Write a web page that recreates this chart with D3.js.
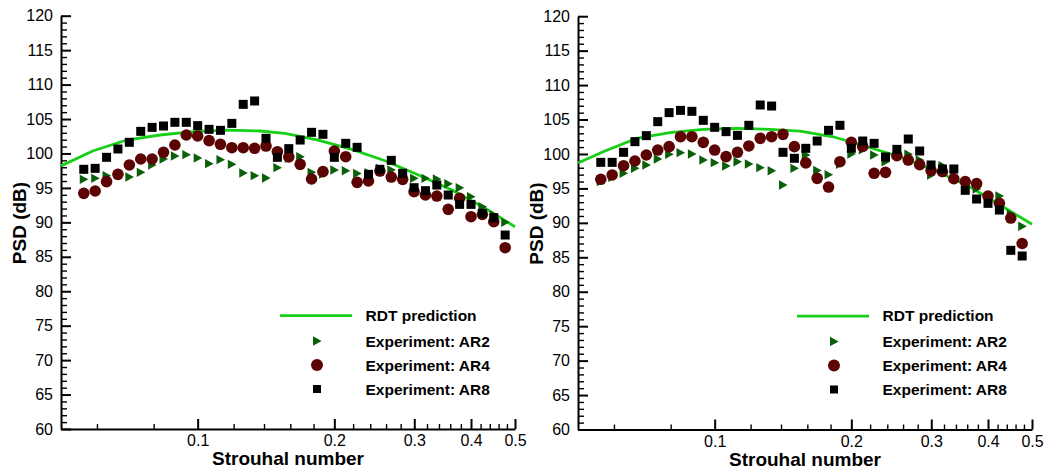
<!DOCTYPE html>
<html>
<head>
<meta charset="utf-8">
<script src="https://cdn.jsdelivr.net/npm/d3@7"></script>
<style>
  body { margin: 0; background: #fff; }
  svg { display: block; font-family: "Liberation Sans", Arial, Helvetica, sans-serif; }
</style>
</head>
<body>
<svg id="chart" width="1047" height="469"></svg>
<script>
// 1/12-octave Strouhal band centres
const strouhal = [0.05612, 0.05946, 0.06300, 0.06674, 0.07071, 0.07492, 0.07937, 0.08409, 0.08909, 0.09439,
  0.1, 0.10595, 0.11225, 0.11892, 0.12599, 0.13348, 0.14142, 0.14983, 0.15874, 0.16818,
  0.17818, 0.18877, 0.2, 0.21189, 0.22449, 0.23784, 0.25198, 0.26697, 0.28284, 0.29966,
  0.31748, 0.33636, 0.35636, 0.37755, 0.4, 0.42379, 0.44898, 0.47568];

// Left panel
const leftAR2 = [96.24, 96.39, 96.78, 96.9, 96.58, 97.26, 98.33, 99.2, 99.63, 99.83,
  99.34, 98.52, 99.1, 98.42, 97.16, 96.78, 96.44, 97.94, 99.3, 99.53,
  97.26, 97.0, 97.6, 97.5, 97.1, 97.2, 97.84, 97.6, 97.1, 96.39,
  96.39, 96.29, 95.6, 95.03, 93.73, 92.27, 91.07, 90.0];
const leftAR4 = [94.21, 94.55, 95.91, 96.97, 98.33, 99.2, 99.2, 100.17, 101.23, 102.68,
  102.54, 101.86, 101.33, 100.84, 100.84, 100.75, 101.08, 100.26, 99.5, 98.42,
  96.29, 97.36, 100.36, 99.53, 95.81, 96.0, 97.45, 96.58, 96.24, 94.45,
  93.97, 93.82, 91.89, 93.49, 90.82, 91.16, 90.1, 86.32];
const leftAR8 = [97.7, 97.84, 99.44, 100.65, 101.62, 103.21, 103.79, 103.99, 104.52, 104.52,
  104.04, 103.5, 103.36, 104.37, 107.13, 107.62, 102.2, 99.44, 100.7, 101.95,
  103.07, 102.78, 99.44, 101.47, 100.89, 96.97, 97.7, 99.0, 97.12, 95.03,
  94.6, 95.42, 93.97, 92.61, 92.61, 91.31, 90.68, 88.16];
const leftRdtSt = [0.05, 0.0589, 0.0698, 0.0826, 0.0978, 0.1159, 0.1372, 0.1557, 0.1843, 0.2185, 0.2587, 0.3063, 0.3632, 0.4296, 0.5];
const leftRdt = [98.2, 100.4, 101.95, 102.68, 103.16, 103.4, 103.26, 102.92, 101.95, 100.6, 98.95, 96.87, 94.7, 92.04, 89.37];

// Right panel
const rightAR2 = [95.98, 96.6, 97.19, 97.91, 98.4, 99.27, 99.95, 100.19, 100.0, 99.12,
  98.74, 98.25, 98.88, 98.54, 98.01, 97.57, 95.49, 97.91, 99.85, 97.6,
  97.0, 98.5, 100.0, 100.6, 99.85, 98.88, 100.0, 99.95, 99.12, 96.95,
  98.3, 97.67, 95.8, 94.9, 93.85, 93.9, 91.3, 89.5];
const rightAR4 = [96.32, 96.95, 98.3, 98.98, 99.85, 100.57, 101.06, 102.51, 102.51, 101.69,
  100.57, 99.61, 100.24, 101.16, 102.27, 102.51, 102.85, 101.06, 98.7, 96.46,
  95.2, 98.88, 101.7, 101.1, 97.19, 97.33, 99.75, 99.12, 98.45, 97.6,
  97.45, 96.4, 96.0, 95.7, 93.9, 92.83, 90.7, 87.0];
const rightAR8 = [98.78, 98.78, 100.24, 101.79, 102.66, 104.69, 106.0, 106.33, 106.19, 104.88,
  103.87, 103.24, 102.7, 104.16, 107.11, 106.96, 100.24, 99.37, 100.82, 101.88,
  103.43, 104.16, 100.82, 101.88, 101.54, 99.56, 100.67, 102.17, 100.43, 98.4,
  97.82, 97.82, 94.72, 93.46, 92.83, 91.86, 86.01, 85.19];
const rightRdtSt = [0.05, 0.0568, 0.0673, 0.0797, 0.0944, 0.1118, 0.1324, 0.1542, 0.1825, 0.2163, 0.2561, 0.3031, 0.3592, 0.4253, 0.5];
const rightRdt = [98.7, 100.33, 102.27, 103.09, 103.58, 103.72, 103.58, 103.33, 102.5, 101.05, 99.6, 97.67, 95.5, 92.6, 89.8];

// Axes
const xMajorTicks = [0.1, 0.2, 0.3, 0.4, 0.5];
const xMinorTicks = [0.06, 0.08, 0.12, 0.14, 0.16, 0.18, 0.22, 0.24, 0.26, 0.28, 0.32, 0.34, 0.36, 0.38, 0.42, 0.44, 0.46, 0.48];
const yMajorTicks = [60, 65, 70, 75, 80, 85, 90, 95, 100, 105, 110, 115, 120];
const xDomain = [0.05, 0.5];
const yDomain = [60, 120];
const xTitle = "Strouhal number";
const yTitle = "PSD (dB)";
const legendLabels = ["RDT prediction", "Experiment: AR2", "Experiment: AR4", "Experiment: AR8"];

const COL_LINE = "#17cf17";
const COL_AR2 = "#0b5f0b";
const COL_AR4 = "#5c0404";
const COL_AR8 = "#000000";

const svg = d3.select("#chart");

const triPath = "M-4,-4.7L4.6,0L-4,4.7Z";

function drawPanel(dx, dy, rdtSt, rdt, ar2, ar4, ar8) {
  const g = svg.append("g").attr("transform", `translate(${dx},${dy})`);
  const x = d3.scaleLog().domain(xDomain).range([61, 515]);
  const y = d3.scaleLinear().domain(yDomain).range([429, 15.7]);

  // minor ticks
  const yMinor = d3.range(yDomain[0], yDomain[1] + 1, 1).filter(v => v % 5 !== 0);
  const gyMinor = g.append("g").attr("transform", "translate(61,0)")
    .call(d3.axisLeft(y).tickValues(yMinor).tickSize(-6).tickFormat(""));
  gyMinor.select(".domain").remove();
  gyMinor.selectAll("line").attr("stroke", "#000").attr("stroke-width", 1.4);

  const gxMinor = g.append("g").attr("transform", "translate(0,429)")
    .call(d3.axisBottom(x).tickValues(xMinorTicks).tickSize(-5).tickFormat(""));
  gxMinor.select(".domain").remove();
  gxMinor.selectAll("line").attr("stroke", "#000").attr("stroke-width", 1.4);

  // major axes
  const gy = g.append("g").attr("transform", "translate(61,0)")
    .call(d3.axisLeft(y).tickValues(yMajorTicks).tickSize(-10).tickSizeOuter(0).tickPadding(8).tickFormat(d3.format("d")));
  gy.select(".domain").attr("stroke", "#000").attr("stroke-width", 2);
  gy.selectAll("line").attr("stroke", "#000").attr("stroke-width", 2);
  gy.selectAll("text").attr("font-size", 16).attr("fill", "#000")
    .attr("font-family", '"Liberation Sans", Arial, sans-serif');

  const gx = g.append("g").attr("transform", "translate(0,429)")
    .call(d3.axisBottom(x).tickValues(xMajorTicks).tickSize(-10).tickSizeOuter(0).tickPadding(6).tickFormat(d => String(d)));
  gx.select(".domain").attr("stroke", "#000").attr("stroke-width", 2);
  gx.selectAll("line").attr("stroke", "#000").attr("stroke-width", 2);
  gx.selectAll("text").attr("font-size", 16).attr("fill", "#000")
    .attr("font-family", '"Liberation Sans", Arial, sans-serif');

  // titles
  g.append("text").attr("x", 288).attr("y", 465).attr("text-anchor", "middle")
    .attr("font-size", 19).attr("font-weight", "bold").text(xTitle);
  g.append("text").attr("transform", "translate(25.5,223) rotate(-90)").attr("text-anchor", "middle")
    .attr("font-size", 19).attr("font-weight", "bold").text(yTitle);

  // RDT line
  const line = d3.line().x(d => x(d[0])).y(d => y(d[1]));
  g.append("path").datum(rdtSt.map((s, i) => [s, rdt[i]]))
    .attr("d", line).attr("fill", "none").attr("stroke", COL_LINE).attr("stroke-width", 2.8);

  // AR2 triangles
  g.append("g").selectAll("path").data(strouhal.map((s, i) => [s, ar2[i]])).join("path")
    .attr("d", triPath).attr("fill", COL_AR2)
    .attr("transform", d => `translate(${x(d[0])},${y(d[1])})`);
  // AR4 circles
  g.append("g").selectAll("circle").data(strouhal.map((s, i) => [s, ar4[i]])).join("circle")
    .attr("cx", d => x(d[0])).attr("cy", d => y(d[1])).attr("r", 5.8).attr("fill", COL_AR4);
  // AR8 squares
  g.append("g").selectAll("rect").data(strouhal.map((s, i) => [s, ar8[i]])).join("rect")
    .attr("x", d => x(d[0]) - 4.5).attr("y", d => y(d[1]) - 4.5)
    .attr("width", 9).attr("height", 9).attr("fill", COL_AR8);

  // legend
  const lg = g.append("g");
  lg.append("line").attr("x1", 280).attr("x2", 352).attr("y1", 315.7).attr("y2", 315.7)
    .attr("stroke", COL_LINE).attr("stroke-width", 2.8);
  lg.append("path").attr("d", triPath).attr("fill", COL_AR2).attr("transform", "translate(317,341)");
  lg.append("circle").attr("cx", 317).attr("cy", 365).attr("r", 6).attr("fill", COL_AR4);
  lg.append("rect").attr("x", 313).attr("y", 385).attr("width", 8).attr("height", 8).attr("fill", COL_AR8);
  const baselines = [320.7, 346.5, 370.5, 394.5];
  legendLabels.forEach((t, i) => {
    lg.append("text").attr("x", 365.5).attr("y", baselines[i])
      .attr("font-size", 15.5).attr("font-weight", "bold").attr("fill", "#000").text(t);
  });
}

drawPanel(0, 0, leftRdtSt, leftRdt, leftAR2, leftAR4, leftAR8);
drawPanel(517, 0.5, rightRdtSt, rightRdt, rightAR2, rightAR4, rightAR8);
</script>
</body>
</html>
